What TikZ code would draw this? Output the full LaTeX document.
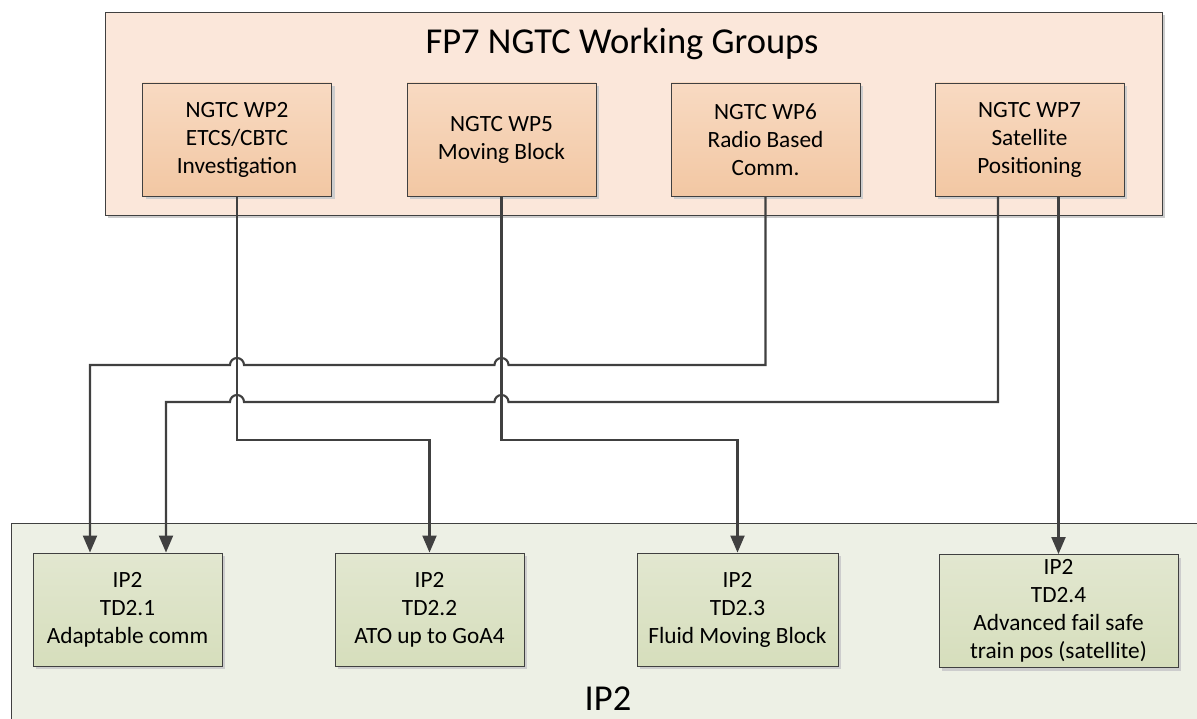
\documentclass[tikz,border=0pt]{standalone}
\usepackage{fontspec}
\setmainfont{Carlito}
\usetikzlibrary{arrows.meta,calc}
\definecolor{linec}{RGB}{64,64,64}
\definecolor{peachbg}{RGB}{251,231,218}
\definecolor{orangetop}{RGB}{248,218,194}
\definecolor{orangebot}{RGB}{242,199,163}
\definecolor{greenbg}{RGB}{237,240,229}
\definecolor{greentop}{RGB}{226,231,208}
\definecolor{greenbot}{RGB}{214,222,188}
\definecolor{shadowc}{RGB}{205,205,205}
\tikzset{
  container/.style={draw=linec, line width=0.9pt},
  shadowed/.style={preaction={fill=shadowc, transform canvas={shift={(3pt,-3pt)}}}},
  wpbox/.style={shadowed, draw=linec, line width=0.9pt, top color=orangetop, bottom color=orangebot,
     minimum width=189pt, minimum height=113pt, inner sep=0pt, align=center,
     font=\fontsize{23.3}{28}\selectfont},
  tdbox/.style={shadowed, draw=linec, line width=0.9pt, top color=greentop, bottom color=greenbot,
     minimum height=113pt, inner sep=0pt, align=center,
     font=\fontsize{23.3}{28}\selectfont},
  bigtitle/.style={font=\fontsize{36.5}{42}\selectfont, inner sep=0pt},
  conn/.style={draw=linec, line width=2.1pt, -{Triangle[length=17pt,width=14pt]}},
}
\begin{document}
\begin{tikzpicture}[x=1pt,y=1pt]
\useasboundingbox (0,0) rectangle (1197,-719);
\clip (0,0) rectangle (1197,-719);
\fill[white] (0,0) rectangle (1197,-719);
% containers
\path[container, shadowed, fill=peachbg] (105,-12) rectangle (1162,-215);
\path[container, fill=greenbg] (11,-523) rectangle (1230,-760);
\node[bigtitle] (title) at (622,-44) {FP7 NGTC Working Groups};
\node[bigtitle] (iplabel) at (608,-699) {IP2};
% top boxes
\node[wpbox] (wp2) at (237,-139.5) {NGTC WP2\\ETCS/CBTC\\Investigation};
\node[wpbox] (wp5) at (501.5,-139.5) {NGTC WP5\\Moving Block};
\node[wpbox] (wp6) at (765.5,-139.5) {NGTC WP6\\Radio Based\\Comm.};
\node[wpbox] (wp7) at (1029.5,-139.5) {NGTC WP7\\Satellite\\Positioning};
% bottom boxes
\node[tdbox, minimum width=189pt] (td1) at (127.5,-609.5) {IP2\\TD2.1\\Adaptable comm};
\node[tdbox, minimum width=189pt] (td2) at (429.5,-609.5) {IP2\\TD2.2\\ATO up to GoA4};
\node[tdbox, minimum width=201pt] (td3) at (737.5,-609.5) {IP2\\TD2.3\\Fluid Moving Block};
\node[tdbox, minimum width=239pt] (td4) at (1058.5,-611) {IP2\\TD2.4\\Advanced fail safe\\train pos (satellite)};
% helper coordinates
\coordinate (y1) at (0,-365);
\coordinate (y2) at (0,-402);
\coordinate (y3) at (0,-440);
\coordinate (a1) at ($(td1.north)+(-37.5,0)$);
\coordinate (a2) at ($(td1.north)+(38.5,0)$);
\coordinate (s7a) at ($(wp7.south)+(-31.5,0)$);
\coordinate (s7b) at (td4.north |- wp7.south);
\def\hr{7}
% connectors
\draw[conn] (wp6.south) -- (wp6.south |- y1)
  -- ($(wp5.south |- y1)+(\hr,0)$) arc[start angle=0,end angle=180,radius=\hr]
  -- ($(wp2.south |- y1)+(\hr,0)$) arc[start angle=0,end angle=180,radius=\hr]
  -- (a1 |- y1) -- (a1);
\draw[conn] (s7a) -- (s7a |- y2)
  -- ($(wp5.south |- y2)+(\hr,0)$) arc[start angle=0,end angle=180,radius=\hr]
  -- ($(wp2.south |- y2)+(\hr,0)$) arc[start angle=0,end angle=180,radius=\hr]
  -- (a2 |- y2) -- (a2);
\draw[conn] (wp2.south) -- (wp2.south |- y3) -- (td2.north |- y3) -- (td2.north);
\draw[conn] (wp5.south) -- (wp5.south |- y3) -- (td3.north |- y3) -- (td3.north);
\draw[conn] (s7b) -- (td4.north);
\end{tikzpicture}
\end{document}
